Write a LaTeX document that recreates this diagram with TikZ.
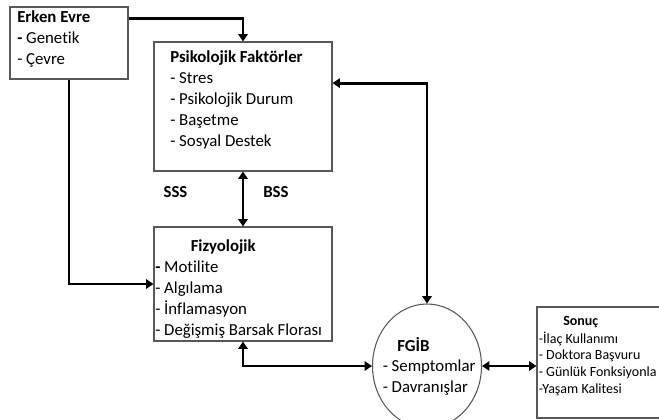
\documentclass[tikz,border=0pt]{standalone}
\usepackage{fontspec}
\setmainfont{Carlito}[Ligatures=NoCommon]
\usetikzlibrary{arrows.meta, positioning, shapes.geometric, calc}
\tikzset{
  box/.style={draw=black!65, line width=0.8pt, rectangle, inner sep=0pt},
  txt/.style={anchor=base west, align=left, inner sep=0pt, font=\fontsize{12.6}{15.75}\selectfont},
  small/.style={txt, font=\fontsize{10.5}{12.5}\selectfont},
  link/.style={line width=2.2pt, -{Triangle[length=5.5pt, width=7pt]}},
  both/.style={link, {Triangle[length=5.5pt, width=7pt]}-{Triangle[length=5.5pt, width=7pt]}},
}

\begin{document}
\begin{tikzpicture}[x=0.75pt, y=-0.75pt]
  \useasboundingbox (0,0) rectangle (659,420);

  % boxes
  \node[box, minimum width=88.5pt, minimum height=54pt] (erken) at (69,43) {};
  \node[box, minimum width=133.5pt, minimum height=96.75pt] (psiko) at (243,106.5) {};
  \node[box, minimum width=133.5pt, minimum height=85.5pt] (fizyo) at (243,284) {};
  \node[draw=black!65, line width=0.8pt, ellipse, minimum width=81.75pt, minimum height=93pt] (fgib) at (427,366) {};
  \node[box, minimum width=107.25pt, minimum height=83.25pt] (sonuc) at (608.5,362.5) {};

  % texts (multi-line nodes sit on their last baseline)
  \node[txt] (erkentxt) at (17,64.7) {\textbf{Erken Evre}\\\textbf{-} Genetik\\- Çevre};
  \node[txt] (psikotxt) at (170,146.7) {\textbf{Psikolojik Faktörler}\\- Stres\\- Psikolojik Durum\\- Başetme\\- Sosyal Destek};
  \node[txt] (fizyohead) at (190.5,251) {\textbf{Fizyolojik}};
  \node[txt] (fizyotxt) at (155,335) {\textbf{-} Motilite\\- Algılama\\- İnflamasyon\\- Değişmiş Barsak Florası};
  \node[txt] (fgibhead) at (397,351) {\textbf{FGİB}};
  \node[txt] (fgibtxt) at (382.5,392) {- Semptomlar\\- Davranışlar};
  \node[small] (sonuchead) at (563,325) {\textbf{Sonuç}};
  \node[small] (sonuctxt) at (538.5,393.3) {-İlaç Kullanımı\\- Doktora Başvuru\\- Günlük Fonksiyonla\\-Yaşam Kalitesi};
  \node[txt] (sss) at (163.3,197.3) {\textbf{SSS}};
  \node[txt] (bss) at (263,197.3) {\textbf{BSS}};

  % arrows
  \draw[link] ($(erken.north east)!0.17!(erken.south east)$) -| (psiko.north);
  \draw[link] (erken.south) |- (fizyo.west);
  \draw[both] (psiko.south) -- (fizyo.north);
  \draw[both] ($(psiko.north east)!0.32!(psiko.south east)$) -| (fgib.north);
  \draw[both] (fizyo.south) |- (fgib.west);
  \draw[both] (fgib.east) -- (fgib.east -| sonuc.west);
\end{tikzpicture}
\end{document}
